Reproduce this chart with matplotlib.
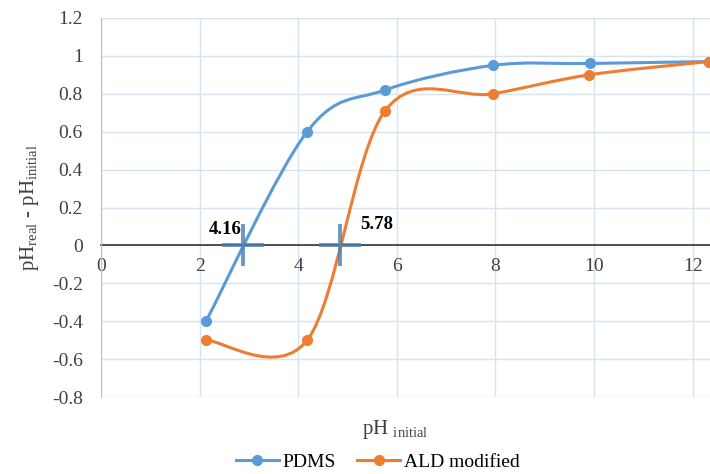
import matplotlib.pyplot as plt
from matplotlib.path import Path
from matplotlib.patches import PathPatch

plt.rcParams['font.family'] = ['Liberation Serif', 'DejaVu Serif']
plt.rcParams['mathtext.fontset'] = 'custom'
plt.rcParams['mathtext.rm'] = 'Liberation Serif'

# data
ph_pdms = [2.13, 4.18, 5.76, 7.95, 9.92, 12.32]
dph_pdms = [-0.40, 0.60, 0.82, 0.95, 0.96, 0.97]
ph_ald = [2.13, 4.18, 5.76, 7.95, 9.90, 12.32]
dph_ald = [-0.50, -0.50, 0.71, 0.80, 0.90, 0.97]

# zero-crossing markers and their labels
cross_x = [2.88, 4.85]
cross_labels = ["4.16", "5.78"]
cross_label_pos = [(2.52, 0.085), (5.6, 0.11)]

BLUE = '#5B9BD5'
ORANGE = '#ED7D31'


def smooth_path(xs, ys):
    """Excel-like smoothed line: cubic Bezier through the points."""
    pts = list(zip(xs, ys))
    verts = [pts[0]]
    codes = [Path.MOVETO]
    n = len(pts)
    for i in range(n - 1):
        p0 = pts[i - 1] if i > 0 else pts[i]
        p1 = pts[i]
        p2 = pts[i + 1]
        p3 = pts[i + 2] if i + 2 < n else pts[i + 1]
        c1 = (p1[0] + (p2[0] - p0[0]) / 6, p1[1] + (p2[1] - p0[1]) / 6)
        c2 = (p2[0] - (p3[0] - p1[0]) / 6, p2[1] - (p3[1] - p1[1]) / 6)
        verts += [c1, c2, p2]
        codes += [Path.CURVE4] * 3
    return Path(verts, codes)


fig = plt.figure(figsize=(7.1, 4.74), dpi=100)
ax = fig.add_axes([101 / 710, 1 - 397 / 474, 1 - 101 / 710, (397 - 18) / 474])

for xs, ys, col, lab in [(ph_pdms, dph_pdms, BLUE, 'PDMS'),
                         (ph_ald, dph_ald, ORANGE, 'ALD modified')]:
    ax.add_patch(PathPatch(smooth_path(xs, ys), facecolor='none',
                           edgecolor=col, lw=2.2, zorder=3))
    ax.plot(xs, ys, 'o', color=col, ms=7, zorder=4)
    ax.plot([], [], '-o', color=col, lw=2.2, ms=7, label=lab)

ax.plot(cross_x, [0] * len(cross_x), '+', color='#4a7eb0', alpha=0.8,
        ms=30, mew=2.8, zorder=5)
for (tx, ty), t in zip(cross_label_pos, cross_labels):
    ax.text(tx, ty, t, fontsize=13.5, fontweight='bold', ha='center', va='center')

ax.set_xlim(0, 12.35)
ax.set_ylim(-0.8, 1.2)
ax.set_xticks(range(0, 13, 2))
ax.set_yticks([-0.8, -0.6, -0.4, -0.2, 0, 0.2, 0.4, 0.6, 0.8, 1, 1.2])
ax.set_yticklabels(['%g' % v for v in ax.get_yticks()])
ax.tick_params(length=0, labelsize=14, colors='#404040')
ax.tick_params(axis='x', pad=9)
ax.tick_params(axis='y', pad=13)
ax.grid(True, color='#d6e4f2', lw=1)
ax.set_axisbelow(True)

for s in ['top', 'right']:
    ax.spines[s].set_visible(False)
ax.spines['left'].set_color('#bfbfbf')
ax.spines['bottom'].set_position(('data', 0))
ax.spines['bottom'].set_color('#333333')
ax.spines['bottom'].set_linewidth(1.2)
ax.spines['bottom'].set_zorder(2)

ax.set_ylabel(r'pH$_{\mathrm{real}}$ - pH$_{\mathrm{initial}}$', fontsize=15,
              color='#404040', labelpad=8)
fig.text(0.557, 0.093, r'pH $_{\mathrm{initial}}$', fontsize=15,
         color='#404040', ha='center', va='center')

fig.legend(loc='center', bbox_to_anchor=(0.532, 0.025), ncol=2, frameon=False,
           fontsize=14, handlelength=2.2, columnspacing=1.1, handletextpad=0.2)

fig.savefig('out.png', dpi=100)
